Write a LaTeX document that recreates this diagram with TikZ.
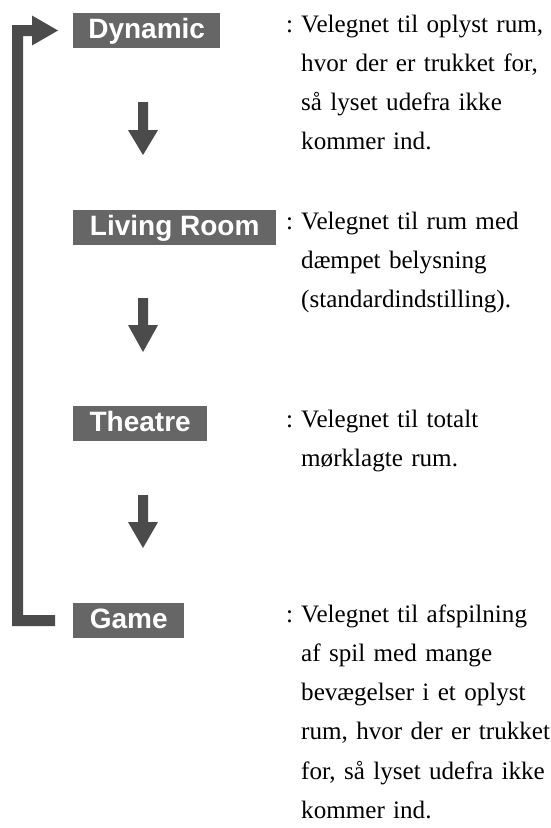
\documentclass[tikz,border=0pt]{standalone}
\usepackage{fontspec}
\setmainfont{Liberation Serif}
\newfontfamily\lblfont{Liberation Sans}
\definecolor{boxgray}{HTML}{666666}
\definecolor{arrgray}{HTML}{4B4B4B}
\begin{document}
\begin{tikzpicture}[x=1pt,y=-1pt,
  lbl/.style={fill=boxgray, text=white, font=\lblfont\bfseries\fontsize{28}{30}\selectfont,
    anchor=north west, inner ysep=0pt, inner xsep=0pt, text height=25pt, text depth=10pt,
    minimum width=#1},
  desc/.style={font=\fontsize{25.1}{39.3}\selectfont, anchor=base west, inner sep=0pt,
    text width=300pt, align=left},
  colon/.style={font=\fontsize{25.1}{39.3}\selectfont, anchor=base west, inner sep=0pt},
  downarr/.style={fill=arrgray, draw=none}
]
\useasboundingbox (0,0) rectangle (551,828);

% label boxes
\node[lbl=147pt] (dyn) at (73,13) {Dynamic};
\node[lbl=203pt] (liv) at (73,210) {Living Room};
\node[lbl=134pt] (the) at (73,406) {Theatre};
\node[lbl=111pt] (gam) at (73,603) {Game};

% descriptions
\node[colon] (c1) at (286,32) {:};
\node[desc] (d1) at (301,32) {Velegnet til oplyst rum,\\hvor der er trukket for,\\så lyset udefra ikke\\kommer ind.};
\node[colon] (c2) at (286,229) {:};
\node[desc] (d2) at (301,229) {Velegnet til rum med\\dæmpet belysning\\(standardindstilling).};
\node[colon] (c3) at (286,427) {:};
\node[desc] (d3) at (301,427) {Velegnet til totalt\\mørklagte rum.};
\node[colon] (c4) at (286,622) {:};
\node[desc] (d4) at (301,622) {Velegnet til afspilning\\af spil med mange\\bevægelser i et oplyst\\rum, hvor der er trukket\\for, så lyset udefra ikke\\kommer ind.};

% down arrows
\foreach \t/\b/\tip in {102/130/155, 298/325/352, 495/522/548}{
  \fill[downarr] (138,\t) -- (148,\t) -- (148,\b) -- (158,\b) -- (143,\tip) -- (128,\b) -- (138,\b) -- cycle;
}

% loop arrow
\fill[downarr] (58,30.5) -- (32,45.5) -- (32,36) -- (23,36) -- (23,615) -- (55,615) -- (55,626)
  -- (12,626) -- (12,25) -- (32,25) -- (32,15.5) -- cycle;
\end{tikzpicture}
\end{document}
